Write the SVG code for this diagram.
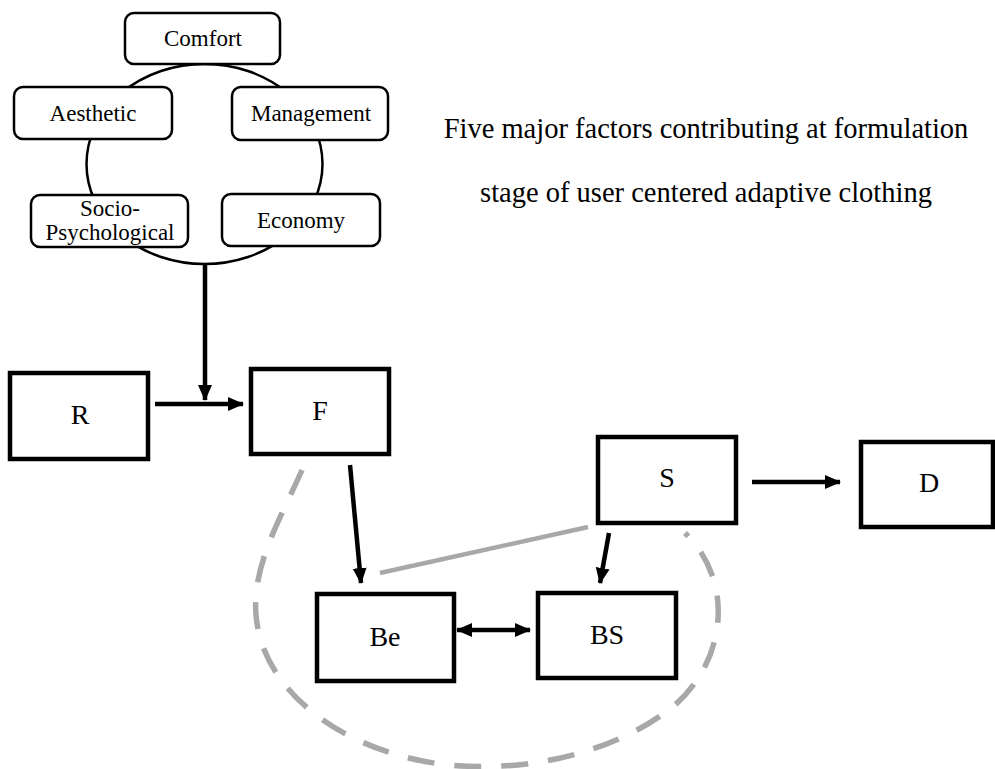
<svg xmlns="http://www.w3.org/2000/svg" width="995" height="769" viewBox="0 0 995 769">
  <defs>
    <marker id="head" viewBox="0 0 16 16" refX="15" refY="8" markerWidth="16" markerHeight="16" markerUnits="userSpaceOnUse" orient="auto-start-reverse">
      <path d="M0,1 L16,8 L0,15 z" fill="#000"/>
    </marker>
  </defs>
  <style>
    text { font-family: "Liberation Serif", "Times New Roman", serif; fill: #000; text-anchor: middle; }
    .factor rect { fill: #fff; stroke: #000; stroke-width: 2.5; }
    .factor text { font-size: 23px; }
    .stage rect { fill: #fff; stroke: #000; stroke-width: 4.5; }
    .stage text { font-size: 28px; }
    .ring { fill: none; stroke: #000; stroke-width: 2.5; }
    .flow { fill: none; stroke: #000; stroke-width: 4.5; marker-end: url(#head); }
    .both { marker-start: url(#head); }
    .grey { fill: none; stroke: #a8a8a8; stroke-width: 4.5; }
    .loop { fill: none; stroke: #a8a8a8; stroke-width: 5.5; stroke-dasharray: 27 20; }
    .caption { font-size: 28.5px; }
  </style>

  <!-- ring joining the five factors -->
  <ellipse class="ring" cx="204.5" cy="164" rx="118" ry="100"/>

  <g id="comfort" class="factor">
    <rect x="125" y="13" width="155" height="51" rx="9"/>
    <text x="203" y="46">Comfort</text>
  </g>
  <g id="aesthetic" class="factor">
    <rect x="14" y="87" width="158" height="52" rx="9"/>
    <text x="93" y="121">Aesthetic</text>
  </g>
  <g id="management" class="factor">
    <rect x="232" y="87" width="156" height="53" rx="9"/>
    <text x="311" y="121">Management</text>
  </g>
  <g id="socio-psychological" class="factor">
    <rect x="31" y="195" width="157" height="52" rx="9"/>
    <text x="110" y="216">Socio-</text>
    <text x="110" y="240">Psychological</text>
  </g>
  <g id="economy" class="factor">
    <rect x="222" y="194" width="158" height="52" rx="9"/>
    <text x="301" y="228">Economy</text>
  </g>

  <g id="caption">
    <text class="caption" x="706" y="138">Five major factors contributing at formulation</text>
    <text class="caption" x="706" y="202">stage of user centered adaptive clothing</text>
  </g>

  <g id="connectors">
    <line class="flow" x1="205" y1="264" x2="205" y2="400"/>
    <line class="flow" x1="155" y1="404" x2="243" y2="404"/>
    <line class="flow" x1="350" y1="465" x2="361" y2="583"/>
    <line class="flow" x1="609" y1="533" x2="600" y2="583"/>
    <line class="flow" x1="752" y1="482" x2="840" y2="482"/>
    <line class="flow both" x1="457" y1="630" x2="530" y2="630"/>
    <line class="grey" x1="380" y1="573" x2="588" y2="527"/>
    <path class="loop" d="M302,470 C280,520 252,565 256,615 C262,690 340,750 440,764 C530,775 620,750 675,705 C720,665 725,610 712,575 C705,555 695,543 685,533"/>
  </g>

  <g id="R" class="stage">
    <rect x="10" y="373" width="138" height="86"/>
    <text x="80" y="424">R</text>
  </g>
  <g id="F" class="stage">
    <rect x="251" y="369" width="138" height="85"/>
    <text x="320" y="420">F</text>
  </g>
  <g id="S" class="stage">
    <rect x="598" y="437" width="138" height="86"/>
    <text x="667" y="487">S</text>
  </g>
  <g id="D" class="stage">
    <rect x="861" y="442" width="132" height="85"/>
    <text x="929" y="492">D</text>
  </g>
  <g id="Be" class="stage">
    <rect x="317" y="594" width="137" height="87"/>
    <text x="385" y="646">Be</text>
  </g>
  <g id="BS" class="stage">
    <rect x="538" y="593" width="138" height="85"/>
    <text x="607" y="644">BS</text>
  </g>
</svg>
